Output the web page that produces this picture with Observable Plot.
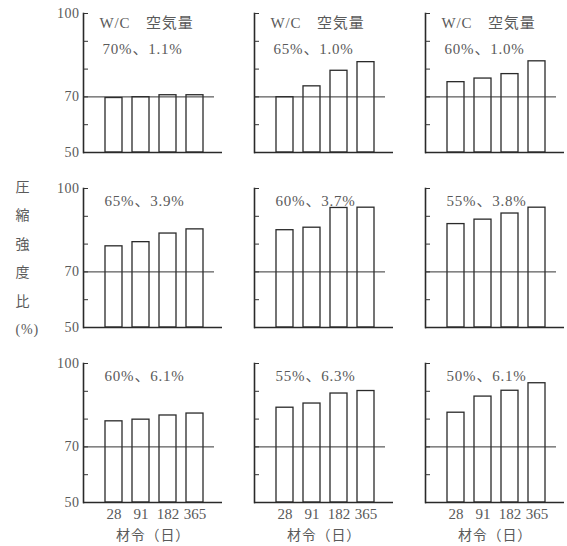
<!DOCTYPE html>
<html><head><meta charset="utf-8">
<script src="https://cdn.jsdelivr.net/npm/d3@7"></script>
<script src="https://cdn.jsdelivr.net/npm/@observablehq/plot@0.6"></script>
<style>
html,body{margin:0;padding:0;background:#fff;}
#chart svg g[aria-label="text"] text{letter-spacing:0.8px;}
#chart svg g[aria-label="y-axis tick label"] text{letter-spacing:0.5px;}
</style>
</head><body><div id="chart"></div>
<script>
// ---- data ----
const days = ["28", "91", "182", "365"];
const panelRow = ["r1", "r1", "r1", "r2", "r2", "r2", "r3", "r3", "r3"];
const panelCol = ["c1", "c2", "c3", "c1", "c2", "c3", "c1", "c2", "c3"];
const wcRatio = ["70%", "65%", "60%", "65%", "60%", "55%", "60%", "55%", "50%"];
const airContent = ["1.1%", "1.0%", "1.0%", "3.9%", "3.7%", "3.8%", "6.1%", "6.3%", "6.1%"];
const ratio28  = [69.6, 69.9, 75.3, 79.2, 85.0, 87.2, 79.2, 84.1, 82.3];
const ratio91  = [69.9, 73.8, 76.6, 80.7, 85.9, 88.8, 79.8, 85.6, 88.1];
const ratio182 = [70.6, 79.4, 78.2, 83.8, 93.0, 91.0, 81.3, 89.2, 90.2];
const ratio365 = [70.6, 82.5, 82.8, 85.3, 93.1, 93.1, 82.0, 90.1, 92.9];
const yDomain = [50, 100];
const yTickLabels = [50, 70, 100];
const yTickMarks = [60, 70, 80, 90, 100];
const refLine = [70];
const headerText = "W/C　空気量";
const yTitle = ["圧", "縮", "強", "度", "比", "(%)"];
const xTitle = "材令（日）";

// ---- tables ----
const ratios = [ratio28, ratio91, ratio182, ratio365];
const bars = [];
panelRow.forEach((r, i) => days.forEach((d, j) =>
  bars.push({row: r, col: panelCol[i], day: d, value: ratios[j][i]})));
const panels = panelRow.map((r, i) => ({row: r, col: panelCol[i], label: `${wcRatio[i]}、${airContent[i]}`}));

const font = "'Liberation Serif','DejaVu Serif','Noto Sans CJK JP',serif";
const ink = "#2a2a2a";
const txt = "#5a5a5a";

const chart = Plot.plot({
  width: 567, height: 546,
  marginLeft: 82, marginRight: 2, marginTop: 13, marginBottom: 44,
  style: {fontFamily: font, background: "#fff", color: txt, overflow: "visible"},
  fx: {domain: ["c1", "c2", "c3"], paddingInner: 0.1878, paddingOuter: 0, axis: null},
  fy: {domain: ["r1", "r2", "r3"], paddingInner: 0.206, paddingOuter: 0, axis: null},
  x: {domain: days, paddingInner: 0.357, paddingOuter: 0.679, align: 0.55},
  y: {domain: yDomain},
  marks: [
    Plot.barY(bars, {fx: "col", fy: "row", x: "day", y1: yDomain[0], y2: "value",
      fill: "white", stroke: ink, strokeWidth: 1.3}),
    Plot.ruleY(refLine, {stroke: "#333", strokeWidth: 1, insetRight: 8}),
    Plot.ruleY([yDomain[0]], {stroke: ink, strokeWidth: 1.6}),
    Plot.frame({anchor: "left", stroke: ink, strokeWidth: 1.6}),
    Plot.axisY({ticks: yTickMarks, tickSize: 5, dx: 5, fill: "none", stroke: "#333",
      facetAnchor: null, label: null}),
    Plot.axisY({ticks: yTickLabels, tickSize: 0, tickPadding: 4, fontSize: 14,
      label: null, fill: txt}),
    Plot.axisX({tickSize: 0, tickPadding: 6, fontSize: 15, label: null, fill: txt}),
    Plot.text(panels.filter(p => p.row === "r3"), {fx: "col", fy: "row", frameAnchor: "bottom",
      text: () => xTitle, dy: 37, fontSize: 14, fill: txt}),
    Plot.text(panels.filter(p => p.row === "r1"), {fx: "col", fy: "row", frameAnchor: "top-left",
      text: () => headerText, dx: 16, dy: 4, textAnchor: "start", fontSize: 15, fill: txt}),
    Plot.text(panels.filter(p => p.row === "r1"), {fx: "col", fy: "row", frameAnchor: "top-left",
      text: "label", dx: 19, dy: 30, textAnchor: "start", fontSize: 15, fill: txt}),
    Plot.text(panels.filter(p => p.row !== "r1"), {fx: "col", fy: "row", frameAnchor: "top-left",
      text: "label", dx: 21, dy: 7, textAnchor: "start", fontSize: 15, fill: txt}),
    Plot.text(panels.filter(p => p.row === "r2" && p.col === "c1"), {fx: "col", fy: "row",
      frameAnchor: "left", text: () => yTitle.join("\n"), dx: -68, dy: -4,
      lineHeight: 2.03, fontSize: 14, fill: txt})
  ]
});
document.getElementById("chart").appendChild(chart);
</script>
</body></html>
